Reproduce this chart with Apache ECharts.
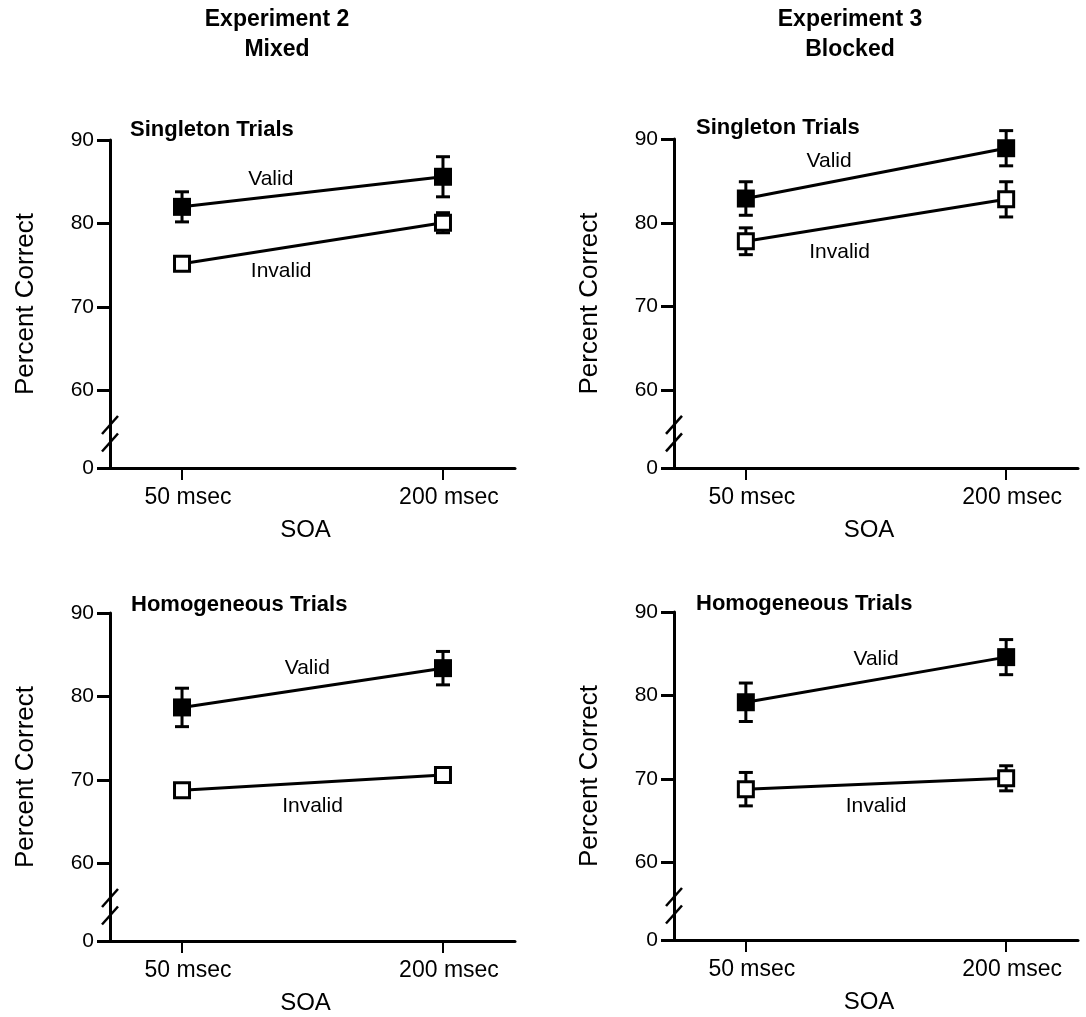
<!DOCTYPE html>
<html>
<head>
<meta charset="utf-8">
<script src="https://cdn.jsdelivr.net/npm/echarts@6/dist/echarts.min.js"></script>
<style>
html,body{margin:0;padding:0;background:#fff;}
#chart{width:1086px;height:1017px;}
</style>
</head>
<body>
<div id="chart"></div>
<script>
// ---- data ----
const categories = ['50 msec', '200 msec'];
const yTickValues = [60, 70, 80, 90];
const yBreakBottom = 50.75;           // axis position shown with the "0" label (below the break)
const columnTitles = ['Experiment 2\nMixed', 'Experiment 3\nBlocked'];
const panelTitles = ['Singleton Trials', 'Singleton Trials', 'Homogeneous Trials', 'Homogeneous Trials'];

const exp2SingletonValid = [82.0, 85.6];
const exp2SingletonValidErr = [1.8, 2.4];
const exp2SingletonInvalid = [75.2, 80.1];
const exp2SingletonInvalidErr = [0.5, 1.2];

const exp3SingletonValid = [82.9, 88.9];
const exp3SingletonValidErr = [2.0, 2.1];
const exp3SingletonInvalid = [77.8, 82.8];
const exp3SingletonInvalidErr = [1.6, 2.1];

const exp2HomogValid = [78.7, 83.4];
const exp2HomogValidErr = [2.3, 2.0];
const exp2HomogInvalid = [68.8, 70.6];
const exp2HomogInvalidErr = [0.8, 0.7];

const exp3HomogValid = [79.2, 84.6];
const exp3HomogValidErr = [2.3, 2.1];
const exp3HomogInvalid = [68.8, 70.1];
const exp3HomogInvalidErr = [2.0, 1.5];

// annotation anchors in data space [x, y]
const validLabelAt = [[0.34, 85.3], [0.32, 87.3], [0.48, 83.4], [0.5, 84.3]];
const invalidLabelAt = [[0.38, 74.3], [0.36, 76.5], [0.5, 66.9], [0.5, 66.8]];

const panels = [
  {valid: exp2SingletonValid, validErr: exp2SingletonValidErr, invalid: exp2SingletonInvalid, invalidErr: exp2SingletonInvalidErr},
  {valid: exp3SingletonValid, validErr: exp3SingletonValidErr, invalid: exp3SingletonInvalid, invalidErr: exp3SingletonInvalidErr},
  {valid: exp2HomogValid, validErr: exp2HomogValidErr, invalid: exp2HomogInvalid, invalidErr: exp2HomogInvalidErr},
  {valid: exp3HomogValid, validErr: exp3HomogValidErr, invalid: exp3HomogInvalid, invalidErr: exp3HomogInvalidErr}
];

// ---- layout ----
const FONT = "'Liberation Sans', Arial, Helvetica, sans-serif";
const grids = [
  {left: 110, top: 140, width: 405, height: 328},
  {left: 674, top: 139, width: 404, height: 329},
  {left: 110, top: 613, width: 405, height: 328},
  {left: 674, top: 612, width: 404, height: 328}
];
const XMIN = -0.276, XMAX = 1.276;
const titlePos = [[125, 114], [691, 112], [126, 589], [691, 588]];
const colTitlePos = [272, 845];

const chart = echarts.init(document.getElementById('chart'), null, {renderer: 'canvas'});

const option = {
  backgroundColor: '#fff',
  animation: false,
  textStyle: {fontFamily: FONT, color: '#000'},
  title: [],
  grid: grids.map(g => Object.assign({containLabel: false}, g)),
  xAxis: [],
  yAxis: [],
  series: []
};

columnTitles.forEach((t, i) => {
  option.title.push({
    text: t, left: colTitlePos[i], top: 0, textAlign: 'center',
    textStyle: {fontFamily: FONT, fontSize: 23, fontWeight: 'bold', color: '#000', lineHeight: 30, align: 'center'}
  });
});
panelTitles.forEach((t, i) => {
  option.title.push({
    text: t, left: titlePos[i][0], top: titlePos[i][1],
    textStyle: {fontFamily: FONT, fontSize: 22, fontWeight: 'bold', color: '#000'}
  });
});

const yLabelValues = [yBreakBottom].concat(yTickValues);

grids.forEach((g, i) => {
  option.xAxis.push({
    gridIndex: i, type: 'value', min: XMIN, max: XMAX,
    name: 'SOA', nameLocation: 'middle', nameGap: 50,
    nameTextStyle: {fontFamily: FONT, fontSize: 24, color: '#000', padding: [0, 14, 0, 0]},
    axisLine: {show: true, onZero: false, lineStyle: {color: '#000', width: 3}},
    axisTick: {show: true, customValues: [0, 1], length: 12, lineStyle: {color: '#000', width: 2}},
    axisLabel: {show: true, customValues: [0, 1], formatter: v => categories[Math.round(v)],
      fontFamily: FONT, fontSize: 23, color: '#000', margin: 18, padding: [0, 0, 0, 12]},
    splitLine: {show: false}
  });
  option.yAxis.push({
    gridIndex: i, type: 'value', min: yBreakBottom, max: 90,
    name: 'Percent Correct', nameLocation: 'middle', nameRotate: 90, nameGap: 71,
    nameTextStyle: {fontFamily: FONT, fontSize: 26, color: '#000'},
    axisLine: {show: true, onZero: false, lineStyle: {color: '#000', width: 3}},
    axisTick: {show: true, customValues: yLabelValues, length: 13, lineStyle: {color: '#000', width: 3}},
    axisLabel: {show: true, customValues: yLabelValues,
      formatter: v => (v < 55 ? '0' : String(Math.round(v))),
      fontFamily: FONT, fontSize: 21, color: '#000', margin: 16},
    splitLine: {show: false}
  });

  const p = panels[i];
  const errData = [];
  [[p.valid, p.validErr], [p.invalid, p.invalidErr]].forEach(([vals, errs]) => {
    vals.forEach((v, k) => errData.push([k, v - errs[k], v + errs[k]]));
  });
  option.series.push({
    type: 'custom', xAxisIndex: i, yAxisIndex: i, z: 1,
    data: errData,
    renderItem: function (params, api) {
      const x = api.value(0);
      const lo = api.coord([x, api.value(1)]);
      const hi = api.coord([x, api.value(2)]);
      const cap = 7;
      const style = {stroke: '#000', lineWidth: 3};
      return {type: 'group', children: [
        {type: 'line', shape: {x1: lo[0], y1: lo[1], x2: hi[0], y2: hi[1]}, style: style},
        {type: 'line', shape: {x1: lo[0] - cap, y1: lo[1], x2: lo[0] + cap, y2: lo[1]}, style: style},
        {type: 'line', shape: {x1: hi[0] - cap, y1: hi[1], x2: hi[0] + cap, y2: hi[1]}, style: style}
      ]};
    }
  });
  const mkLabel = (txt, at) => ({
    data: [{coord: at, symbol: 'circle', symbolSize: 0,
      label: {show: true, position: 'inside', formatter: txt, fontFamily: FONT, fontSize: 21, color: '#000'}}],
    silent: true, animation: false
  });
  option.series.push({
    type: 'line', xAxisIndex: i, yAxisIndex: i, z: 3,
    data: p.valid.map((v, k) => [k, v]),
    symbol: 'rect', symbolSize: 18,
    itemStyle: {color: '#000', borderColor: '#000', borderWidth: 0},
    lineStyle: {color: '#000', width: 3},
    markPoint: mkLabel('Valid', validLabelAt[i])
  });
  option.series.push({
    type: 'line', xAxisIndex: i, yAxisIndex: i, z: 3,
    data: p.invalid.map((v, k) => [k, v]),
    symbol: 'rect', symbolSize: 15,
    itemStyle: {color: '#fff', borderColor: '#000', borderWidth: 3},
    lineStyle: {color: '#000', width: 3},
    markPoint: mkLabel('Invalid', invalidLabelAt[i])
  });
});

chart.setOption(option);

// axis break marks ("//") on each y axis, located through the axis scale
const breakVals = [55.9, 53.8];
const gfx = [];
grids.forEach((g, i) => {
  breakVals.forEach(bv => {
    const pt = chart.convertToPixel({gridIndex: i}, [XMIN, bv]);
    gfx.push({type: 'line', z: 10,
      shape: {x1: pt[0] - 8, y1: pt[1] + 9, x2: pt[0] + 8, y2: pt[1] - 9},
      style: {stroke: '#000', lineWidth: 2.5}});
  });
});
chart.setOption({graphic: gfx});
</script>
</body>
</html>
